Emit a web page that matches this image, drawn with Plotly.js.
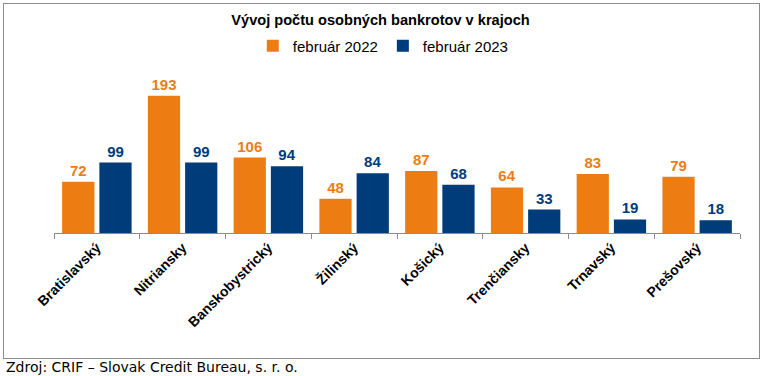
<!DOCTYPE html>
<html>
<head>
<meta charset="utf-8">
<script src="https://cdn.plot.ly/plotly-3.0.1.min.js"></script>
<style>
  html, body { margin: 0; padding: 0; background: #fff; }
  #wrap { position: relative; width: 761px; height: 376px; }
  #chart { width: 761px; height: 376px; }
  #frame { position: absolute; left: 3px; top: 3px; width: 755px; height: 354px;
           border: 1px solid #8c8c8c; pointer-events: none; }
</style>
</head>
<body>
<div id="wrap">
  <div id="chart"></div>
  <div id="frame"></div>
</div>
<script>
const regions = ["Bratislavský", "Nitriansky", "Banskobystrický", "Žilinský", "Košický", "Trenčiansky", "Trnavský", "Prešovský"];
const feb2022 = [72, 193, 106, 48, 87, 64, 83, 79];
const feb2023 = [99, 99, 94, 84, 68, 33, 19, 18];
const seriesNames = ["február 2022", "február 2023"];
const chartTitle = "Vývoj počtu osobných bankrotov v krajoch";
const sourceText = "Zdroj: CRIF – Slovak Credit Bureau, s. r. o.";

const orange = "#ED7D13";
const blue = "#003B7A";

const labelFont = (c) => ({ family: "Liberation Sans, Arial, sans-serif", size: 15, color: c, weight: "bold" });

const traces = [
  { type: "bar", name: seriesNames[0], x: regions, y: feb2022, marker: { color: orange },
    text: feb2022.map(String), textposition: "outside", textfont: labelFont(orange),
    cliponaxis: false, hoverinfo: "x+y" },
  { type: "bar", name: seriesNames[1], x: regions, y: feb2023, marker: { color: blue },
    text: feb2023.map(String), textposition: "outside", textfont: labelFont(blue),
    cliponaxis: false, hoverinfo: "x+y" }
];

const layout = {
  width: 761, height: 376,
  margin: { l: 54, r: 21, t: 60, b: 143, pad: 0 },
  paper_bgcolor: "#fff", plot_bgcolor: "#fff",
  barmode: "group", bargap: 0.132, bargroupgap: 0.134,
  title: { text: chartTitle, x: 0.5, xref: "container", xanchor: "center",
           y: 1 - 20 / 376, yref: "container", yanchor: "middle",
           font: { family: "Liberation Sans, Arial, sans-serif", size: 14.6, color: "#000", weight: "bold" } },
  legend: { orientation: "h", x: 0.48, xanchor: "center", y: 1.081, yanchor: "middle",
            font: { family: "Liberation Sans, Arial, sans-serif", size: 15, color: "#000" },
            itemwidth: 30, tracegroupgap: 0, bgcolor: "rgba(0,0,0,0)" },
  showlegend: true,
  xaxis: { type: "category", tickson: "boundaries", ticks: "outside", ticklen: 5, tickcolor: "#8c8c8c",
           tickwidth: 1, showline: true, linecolor: "#8c8c8c", linewidth: 1, showgrid: false,
           tickangle: -45, tickfont: { family: "Liberation Sans, Arial, sans-serif", size: 14, color: "#000", weight: "bold" },
           fixedrange: true },
  yaxis: { range: [0, 243.2], visible: false, showgrid: false, zeroline: false, fixedrange: true },
  annotations: [
    { text: sourceText, xref: "paper", yref: "paper", x: -0.0729, y: -0.775, xanchor: "left", yanchor: "middle",
      showarrow: false, font: { family: "DejaVu Sans, Verdana, sans-serif", size: 14, color: "#000" } }
  ]
};

Plotly.newPlot("chart", traces, layout, { displayModeBar: false, staticPlot: true });
</script>
</body>
</html>
